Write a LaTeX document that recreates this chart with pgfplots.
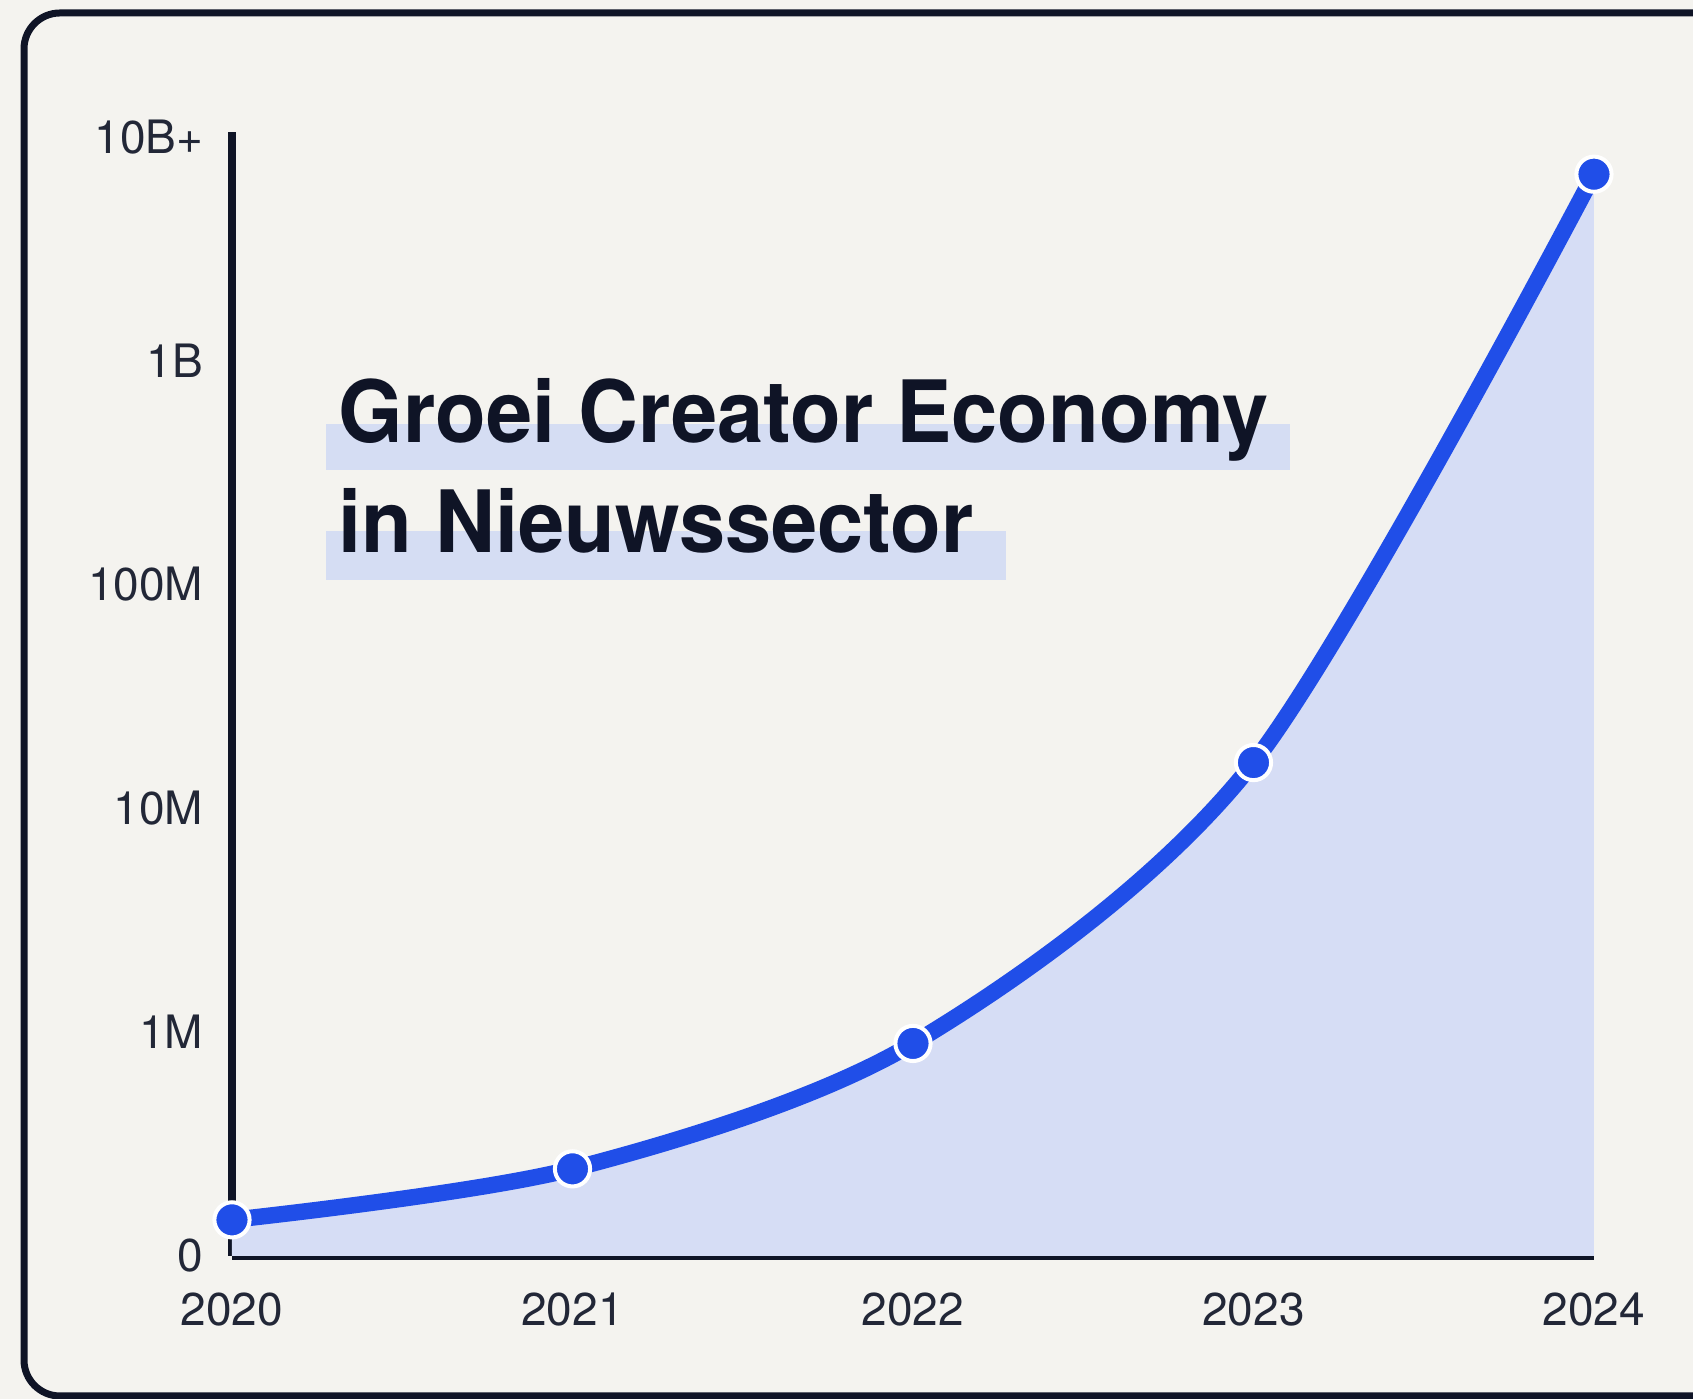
\documentclass[border=0pt]{standalone}
\usepackage{pgfplots}
\usepackage{pgfplotstable}
\pgfplotsset{compat=1.18}
\usepackage{fontspec}
\setmainfont{TeX Gyre Heros}
\newfontfamily\titlefont{TeX Gyre Heros}[FakeStretch=0.965]

\definecolor{bg}{RGB}{244,243,239}
\definecolor{ink}{RGB}{15,20,38}
\definecolor{lineblue}{RGB}{32,78,232}
\definecolor{areablue}{RGB}{214,221,245}
\definecolor{hl}{RGB}{213,221,243}

% creator economy size per year (log scale, bottom tick "0" = 100K)
\pgfplotstableread{
year value
2020 1.45e5
2021 2.45e5
2022 8.9e5
2023 1.6e7
2024 6.8e9
}\growth

\begin{document}
\begin{tikzpicture}
\path[use as bounding box] (0,0) rectangle (423.25pt,349.75pt);
\clip (0,0) rectangle (423.25pt,349.75pt);
\begin{scope}[x=0.25pt,y=0.25pt]
\fill[bg] (0,0) rectangle (1693,1399);
\draw[ink, line width=1.75pt, rounded corners=9pt] (24,3) rectangle (1730,1386);

% title with highlighter bars
\fill[hl] (326,929) rectangle (1290,975);
\fill[hl] (326,819) rectangle (1006,868);
\node[anchor=base west, inner sep=0pt, text=ink,
      font=\titlefont\fontsize{21.5}{26}\selectfont\bfseries] at (338,956) {Groei Creator Economy};
\node[anchor=base west, inner sep=0pt, text=ink,
      font=\titlefont\fontsize{21.5}{26}\selectfont\bfseries] at (338,846) {in Nieuwssector};
\end{scope}

\begin{axis}[
  at={(58pt,35.75pt)}, anchor=south west,
  scale only axis, width=340.5pt, height=281pt,
  ymode=log, log origin y=infty,
  xmin=2020, xmax=2024, ymin=1e5, ymax=1.05e10,
  axis lines=left,
  axis line style={ink, line width=1.8pt, -},
  xtick={2020,2021,2022,2023,2024},
  xticklabels={2020,2021,2022,2023,2024},
  scaled x ticks=false,
  ytick={1e5,1e6,1e7,1e8,1e9,1e10},
  yticklabels={0,1M,10M,100M,1B,10B+},
  minor tick num=0,
  major tick length=0pt,
  tick style={draw=none},
  ticklabel style={font=\fontsize{11.5}{13}\selectfont, text=ink!92},
  yticklabel style={anchor=east, inner sep=0pt, xshift=-7pt},
  xticklabel style={anchor=north, inner sep=0pt, yshift=-9pt},
  /pgf/number format/assume math mode=true,
  clip=false,
]
\addplot[draw=none, fill=areablue, smooth, tension=0.5] table[x=year, y=value] {\growth} \closedcycle;
\addplot[lineblue, line width=4.1pt, smooth, tension=0.5,
  mark=*, mark size=4.4pt,
  mark options={fill=lineblue, draw=white, line width=1pt}]
  table[x=year, y=value] {\growth};
\end{axis}
\end{tikzpicture}
\end{document}
